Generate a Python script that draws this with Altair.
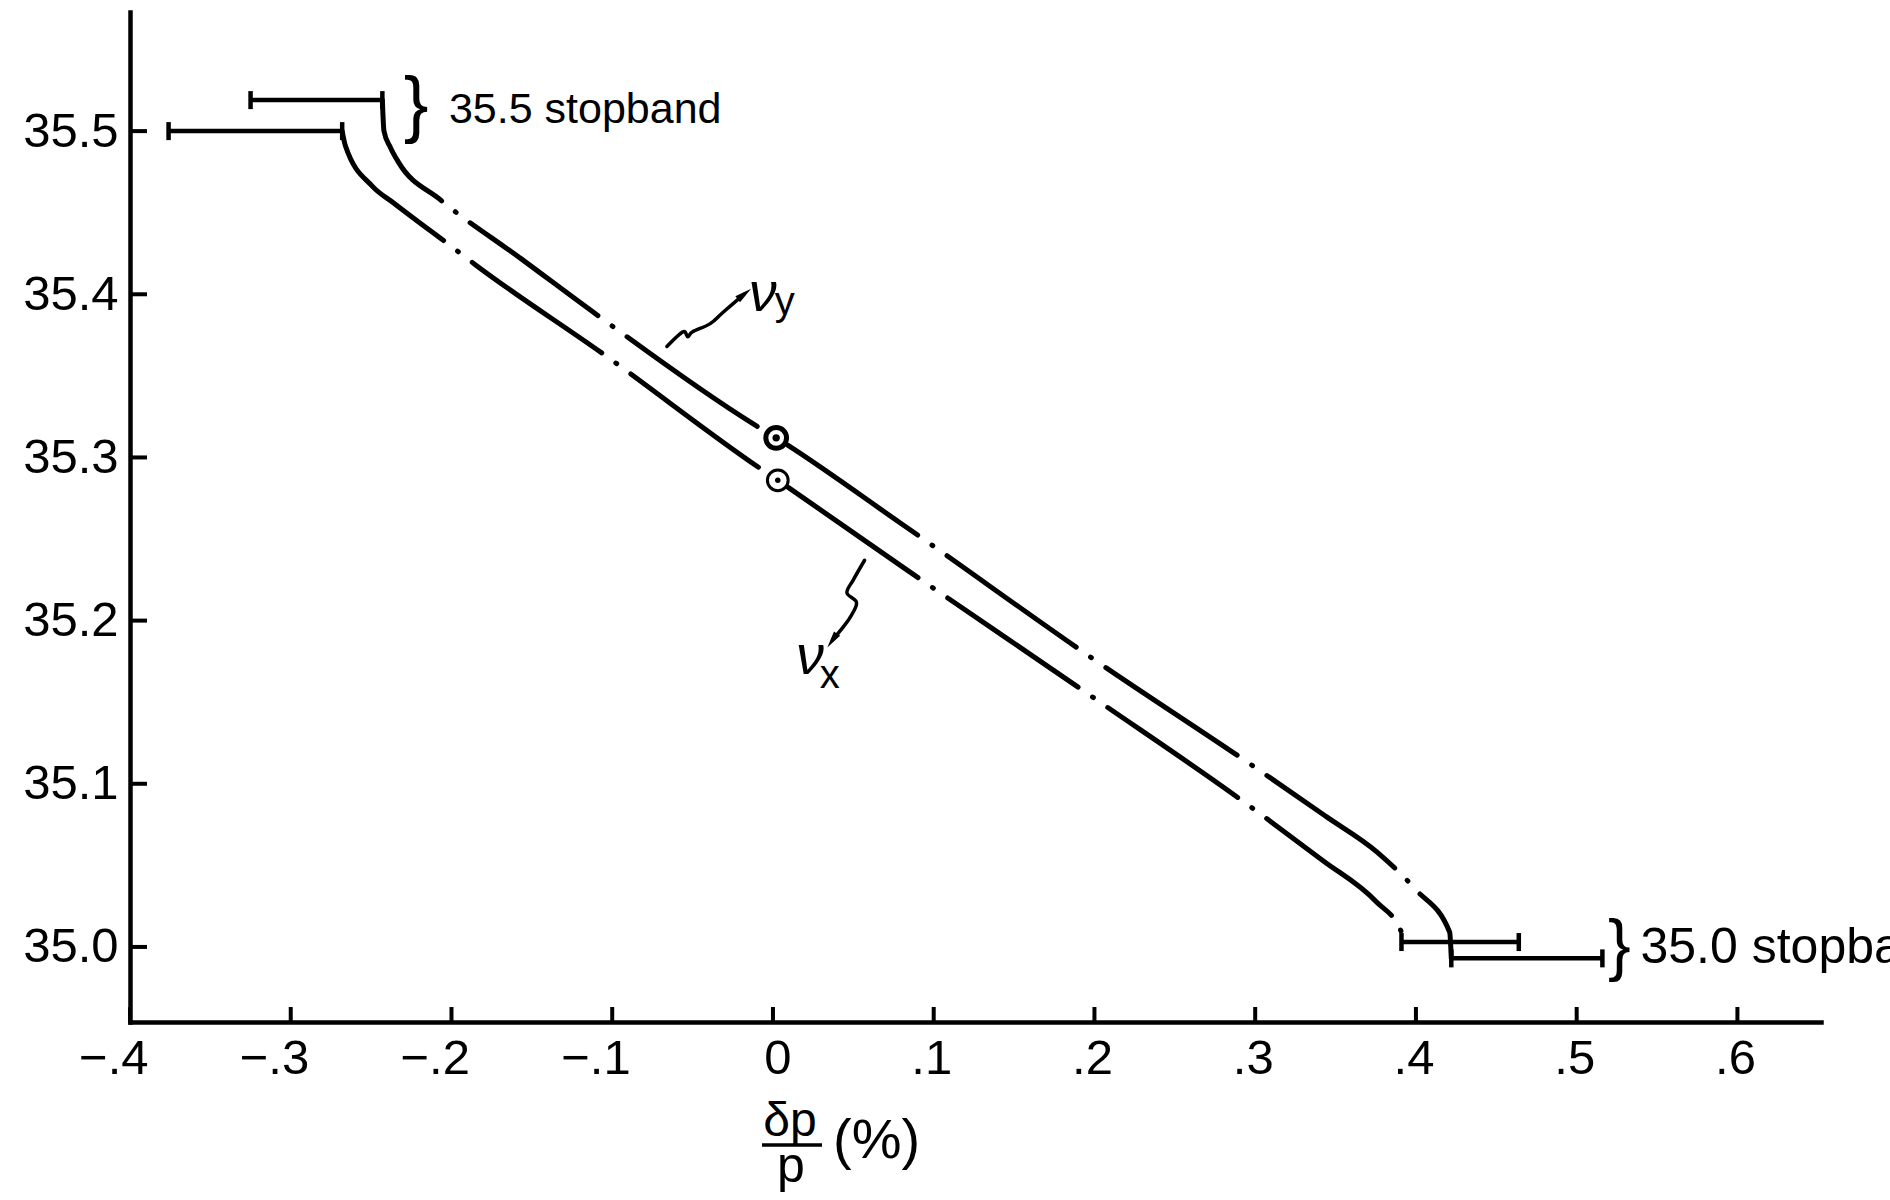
import json
import altair as alt
import pandas as pd

# ---------------- data ----------------
x_ticks = [-0.4, -0.3, -0.2, -0.1, 0.0, 0.1, 0.2, 0.3, 0.4, 0.5, 0.6]
x_tick_labels = ["\u2212.4", "\u2212.3", "\u2212.2", "\u2212.1", "0", ".1", ".2", ".3", ".4", ".5", ".6"]
y_ticks = [35.0, 35.1, 35.2, 35.3, 35.4, 35.5]
y_tick_labels = ["35.0", "35.1", "35.2", "35.3", "35.4", "35.5"]

# nu_y curve (upper / right one)
nu_y_dp = [-0.243, -0.242, -0.238, -0.233, -0.207, -0.157, -0.109, -0.013,
           0.002, 0.079, 0.200, 0.300, 0.344, 0.376, 0.400, 0.421, 0.422]
nu_y_tune = [35.519, 35.500, 35.490, 35.481, 35.458, 35.422, 35.387, 35.321,
             35.312, 35.260, 35.176, 35.110, 35.080, 35.058, 35.035, 35.009, 34.993]

# nu_x curve (lower / left one)
nu_x_dp = [-0.268, -0.266, -0.249, -0.236, -0.197, -0.185, -0.105, -0.009, 0.003, 0.079,
           0.202, 0.290, 0.342, 0.375, 0.391, 0.392]
nu_x_tune = [35.500, 35.491, 35.466, 35.456, 35.427, 35.418, 35.363, 35.294, 35.286, 35.234,
             35.151, 35.091, 35.053, 35.028, 35.009, 35.003]

# working points at dp/p = 0
circle_series = ["nu_y", "nu_x"]
circle_dp = [0.002, 0.003]
circle_tune = [35.312, 35.286]

# stopband widths
sb_series = ["nu_y", "nu_x", "nu_x", "nu_y"]
sb_lo = [-0.325, -0.376, 0.391, 0.422]
sb_hi = [-0.243, -0.268, 0.464, 0.516]
sb_tune = [35.519, 35.500, 35.003, 34.993]

# annotations
sb_label_text = ["35.5  stopband", "35.0 stopband"]
sb_label_dp = [-0.2016, 0.5397]
sb_label_tune = [35.505, 34.990]
brace_dp = [-0.222, 0.5266]
brace_tune = [35.501, 34.987]

nu_label_main = ["\u03bd", "\u03bd"]
nu_label_sub = ["y", "x"]
nu_label_dp = [-0.0063, 0.023]
nu_label_tune = [35.390, 35.167]
nu_sub_dp = [0.0073, 0.0353]
nu_sub_tune = [35.387, 35.159]

nu_y_arrow_dp = [-0.066, -0.056, -0.053, -0.050, -0.039, -0.031, -0.018]
nu_y_arrow_tune = [35.368, 35.377, 35.374, 35.377, 35.382, 35.389, 35.400]
nu_x_arrow_dp = [0.057, 0.050, 0.046, 0.052, 0.048, 0.042, 0.037]
nu_x_arrow_tune = [35.237, 35.225, 35.217, 35.211, 35.202, 35.194, 35.188]

title_num = "\u03b4p"
title_den = "p"
title_unit = "(%)"

# ---------------- tables ----------------
nu_y_df = pd.DataFrame({"dp": nu_y_dp, "tune": nu_y_tune})
nu_x_df = pd.DataFrame({"dp": nu_x_dp, "tune": nu_x_tune})
circ_df = pd.DataFrame({"series": circle_series, "dp": circle_dp, "tune": circle_tune})
sb_df = pd.DataFrame({"series": sb_series, "lo": sb_lo, "hi": sb_hi, "tune": sb_tune})
caps_df = pd.DataFrame({"dp": sb_lo + sb_hi, "tune": sb_tune + sb_tune})
yarr_df = pd.DataFrame({"i": range(len(nu_y_arrow_dp)), "dp": nu_y_arrow_dp, "tune": nu_y_arrow_tune})
xarr_df = pd.DataFrame({"i": range(len(nu_x_arrow_dp)), "dp": nu_x_arrow_dp, "tune": nu_x_arrow_tune})
xt_df = pd.DataFrame({"t": x_ticks})
yt_df = pd.DataFrame({"t": y_ticks})

W, H = 1691, 1010
XDOM = [-0.4, 0.652]
YDOM = [34.954, 35.573]
FONT = "Liberation Sans"

x_label_expr = (json.dumps(x_tick_labels, ensure_ascii=False) + "[indexof("
                + json.dumps(x_ticks) + ", datum.value)]")
y_label_expr = (json.dumps(y_tick_labels, ensure_ascii=False) + "[indexof("
                + json.dumps(y_ticks) + ", datum.value)]")

x_axis = alt.Axis(values=x_ticks, labelExpr=x_label_expr, ticks=False, tickSize=0,
                  grid=False, title=None, domainColor="black", domainWidth=4.5,
                  domainCap="square", labelFont=FONT, labelFontSize=49,
                  labelColor="black", labelPadding=12, labelAlign="right", labelOffset=18,
                  labelFlush=False, labelOverlap=False)
y_axis = alt.Axis(values=y_ticks, labelExpr=y_label_expr, ticks=False, tickSize=0,
                  grid=False, title=None, domainColor="black", domainWidth=4.5,
                  domainCap="square", labelFont=FONT, labelFontSize=49,
                  labelColor="black", labelPadding=12, labelFlush=False,
                  labelOverlap=False)


def X(field):
    return alt.X(field, type="quantitative",
                 scale=alt.Scale(domain=XDOM, nice=False, zero=False), axis=x_axis)


def Y(field):
    return alt.Y(field, type="quantitative",
                 scale=alt.Scale(domain=YDOM, nice=False, zero=False), axis=y_axis)


DASH = [158, 17.5, 1, 17.5]

line_y = alt.Chart(nu_y_df).mark_line(
    color="black", strokeWidth=5, strokeCap="round", strokeDash=DASH,
    strokeDashOffset=34, interpolate="monotone"
).encode(x=X("dp"), y=Y("tune"))

line_x = alt.Chart(nu_x_df).mark_line(
    color="black", strokeWidth=5, strokeCap="round", strokeDash=DASH,
    strokeDashOffset=4, interpolate="monotone"
).encode(x=X("dp"), y=Y("tune"))

# axis ticks (drawn inward)
xtick = alt.Chart(xt_df).mark_rule(color="black", strokeWidth=4).encode(
    x=X("t"), y=alt.value(H), y2=alt.value(H - 15))
ytick = alt.Chart(yt_df).mark_rule(color="black", strokeWidth=4).encode(
    y=Y("t"), x=alt.value(0), x2=alt.value(17))

# stopband bars
sb_bar = alt.Chart(sb_df).mark_rule(color="black", strokeWidth=4.5).encode(
    x=X("lo"), x2="hi", y=Y("tune"))
sb_cap = alt.Chart(caps_df).mark_tick(color="black", orient="vertical", size=18,
                                      thickness=4.5, opacity=1).encode(
    x=X("dp"), y=Y("tune"))

# circles
ring_y = alt.Chart(circ_df).transform_filter(alt.datum.series == "nu_y").mark_point(
    shape="circle", filled=True, fill="white", stroke="black", strokeWidth=5,
    size=430, opacity=1, fillOpacity=1, strokeOpacity=1
).encode(x=X("dp"), y=Y("tune"))
ring_x = alt.Chart(circ_df).transform_filter(alt.datum.series == "nu_x").mark_point(
    shape="circle", filled=True, fill="white", stroke="black", strokeWidth=3,
    size=430, opacity=1, fillOpacity=1, strokeOpacity=1
).encode(x=X("dp"), y=Y("tune"))
dot_y = alt.Chart(circ_df).transform_filter(alt.datum.series == "nu_y").mark_point(
    shape="circle", filled=True, color="black", size=55, opacity=1
).encode(x=X("dp"), y=Y("tune"))
dot_x = alt.Chart(circ_df).transform_filter(alt.datum.series == "nu_x").mark_point(
    shape="circle", filled=True, color="black", size=30, opacity=1
).encode(x=X("dp"), y=Y("tune"))

# squiggle arrows to the nu labels
sq_y = alt.Chart(yarr_df).mark_line(color="black", strokeWidth=3.5, strokeCap="round",
                                    interpolate="cardinal").encode(
    x=X("dp"), y=Y("tune"), order="i:Q")
sq_x = alt.Chart(xarr_df).mark_line(color="black", strokeWidth=3.5, strokeCap="round",
                                    interpolate="cardinal").encode(
    x=X("dp"), y=Y("tune"), order="i:Q")
ARROW = "M0,-1L0.42,0.9L-0.42,0.9Z"
head_y = alt.Chart(yarr_df.tail(1)).mark_point(
    shape=ARROW, filled=True, color="black", size=320, angle=52, opacity=1
).encode(x=X("dp"), y=Y("tune"))
head_x = alt.Chart(xarr_df.tail(1)).mark_point(
    shape=ARROW, filled=True, color="black", size=320, angle=215, opacity=1
).encode(x=X("dp"), y=Y("tune"))

# labels
lab_df = pd.DataFrame({"main": nu_label_main, "sub": nu_label_sub,
                       "dp": nu_label_dp, "tune": nu_label_tune,
                       "sdp": nu_sub_dp, "stune": nu_sub_tune})
nu_main = alt.Chart(lab_df).mark_text(font=FONT, fontSize=56, fontStyle="italic",
                                      align="center", baseline="alphabetic",
                                      color="black").encode(
    x=X("dp"), y=Y("tune"), text="main:N")
nu_sub = alt.Chart(lab_df).mark_text(font=FONT, fontSize=40, align="center",
                                     baseline="alphabetic", color="black").encode(
    x=X("sdp"), y=Y("stune"), text="sub:N")

sbl_df = pd.DataFrame({"text": sb_label_text, "dp": sb_label_dp, "tune": sb_label_tune,
                       "bdp": brace_dp, "btune": brace_tune, "k": [0, 1]})
sb_text_top = alt.Chart(sbl_df).transform_filter(alt.datum.k == 0).mark_text(
    font=FONT, fontSize=43, align="left", baseline="alphabetic", color="black"
).encode(x=X("dp"), y=Y("tune"), text="text:N")
sb_text_bot = alt.Chart(sbl_df).transform_filter(alt.datum.k == 1).mark_text(
    font=FONT, fontSize=50, align="left", baseline="alphabetic", color="black"
).encode(x=X("dp"), y=Y("tune"), text="text:N")
brace_top = alt.Chart(sbl_df).transform_filter(alt.datum.k == 0).mark_text(
    font=FONT, fontSize=74, align="center", baseline="alphabetic", color="black",
    text="}").encode(x=X("bdp"), y=Y("btune"))
brace_bot = alt.Chart(sbl_df).transform_filter(alt.datum.k == 1).mark_text(
    font=FONT, fontSize=68, align="center", baseline="alphabetic", color="black",
    text="}").encode(x=X("bdp"), y=Y("btune"))

# x-axis title as a fraction  δp / p  (%)
t_df = pd.DataFrame({"num": [title_num], "den": [title_den], "unit": [title_unit]})
t_num = alt.Chart(t_df).mark_text(font=FONT, fontSize=48, align="center",
                                  baseline="alphabetic", color="black").encode(
    text="num:N", x=alt.value(660), y=alt.value(1124))
t_bar = alt.Chart(t_df).mark_rule(color="black", strokeWidth=3.5).encode(
    x=alt.value(632), x2=alt.value(692), y=alt.value(1133))
t_den = alt.Chart(t_df).mark_text(font=FONT, fontSize=50, align="center",
                                  baseline="alphabetic", color="black").encode(
    text="den:N", x=alt.value(661), y=alt.value(1170))
t_unit = alt.Chart(t_df).mark_text(font=FONT, fontSize=56, align="left",
                                   baseline="alphabetic", color="black").encode(
    text="unit:N", x=alt.value(703), y=alt.value(1146))

chart = alt.layer(
    line_y, line_x, xtick, ytick, sb_bar, sb_cap,
    ring_y, ring_x, dot_y, dot_x, sq_y, sq_x, head_y, head_x,
    nu_main, nu_sub, sb_text_top, sb_text_bot, brace_top, brace_bot,
    t_num, t_bar, t_den, t_unit
).properties(
    width=W, height=H,
    autosize=alt.AutoSizeParams(type="none"),
    padding={"left": 130, "top": 12, "right": 69, "bottom": 178},
    background="white",
).configure_view(stroke=None)

chart.save("out.html", embed_options={"renderer": "svg", "actions": False})
